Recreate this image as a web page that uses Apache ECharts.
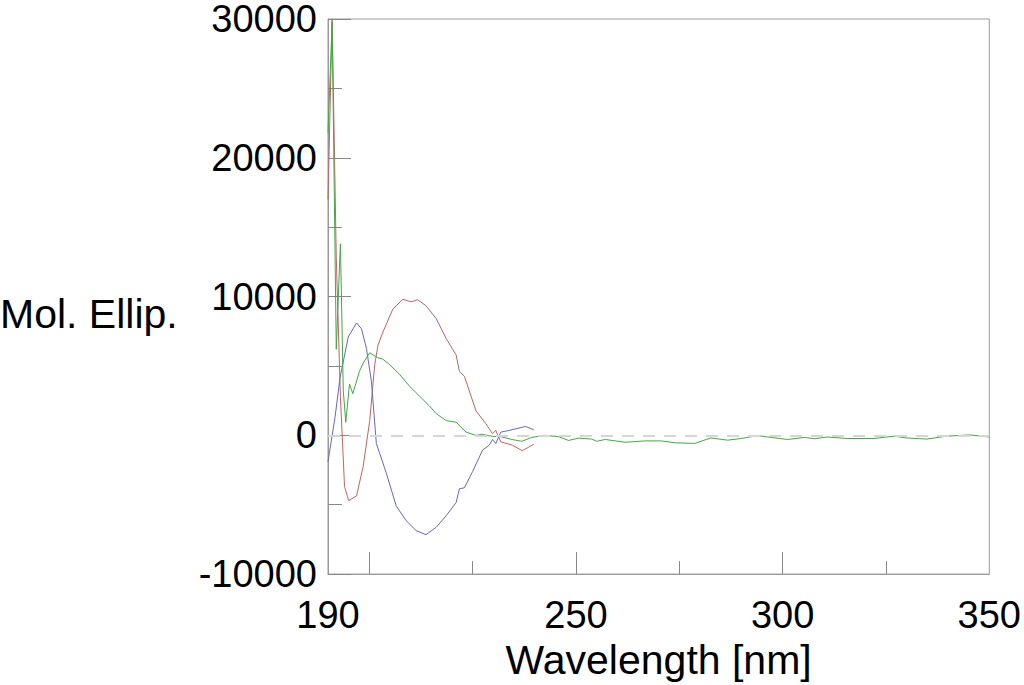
<!DOCTYPE html>
<html>
<head>
<meta charset="utf-8">
<script src="https://cdn.jsdelivr.net/npm/echarts@6/dist/echarts.min.js"></script>
<style>html,body{margin:0;padding:0;background:#fff;}#c{width:1024px;height:685px;}</style>
</head>
<body>
<div id="c"></div>
<script>
// Wavelengths (nm) and molar ellipticity values
const redNm = [190,191,192,193,194,195,196.9,198.5,200.1,201.3,202.1,203.3,205.7,208.1,210.1,211.7,213.7,216.2,218.6,221,221.8,223,225.8,228.2,229.8,230.6,231.8,234.6,237,239.8];
const redVal = [17000,30000,12800,2800,-3700,-4700,-4370,-2250,1060,5080,6500,7450,9100,9800,9620,9770,9340,8400,6970,5790,4600,4250,1770,830,120,350,-470,-710,-1110,-640];

const blueNm = [190,191.7,192.9,194.9,196.9,198.1,199.3,200.5,201.7,204.1,206.5,208.9,211.3,213.7,216.2,218.6,221,221.8,223,225,227.4,229,229.8,230.6,231.8,233.8,237.8,239.8];
const blueVal = [-1890,1300,4130,7090,8100,7680,6260,3900,-590,-2720,-5080,-6150,-6860,-7160,-6620,-5790,-4840,-3850,-3780,-2600,-1060,-710,-300,-590,230,350,640,400];

const greenNm = [190,191,192,193,193.7,194.3,195.2,196,197.6,198.5,200.1,202,203.2,204.9,207.3,209.7,212.1,214.5,216.2,218.6,221,223.4,225.8,227.3,229.7,231.8,234.5,236.9,239.3,242.6,245.8,248.2,250.6,253.8,255,257.1,261.9,266.8,270.6,274,278.8,282.6,286.7,289.9,294,296.4,301.2,305.3,307.7,310.8,315.6,322.1,326.9,330,334.9,339.7,345.2,350];
const greenVal = [21800,29800,6200,13800,3200,940,3700,3000,4600,5200,5950,5600,5500,5100,4400,3550,2840,2130,1560,1060,940,230,0,70,-70,-100,-300,-430,-150,0,-100,-370,-200,-270,-430,-300,-500,-400,-400,-540,-580,-190,-350,-230,-20,-120,-300,-150,-250,-120,-230,-230,-60,-190,-270,-60,30,-120];

const xLabelValues = [190,250,300,350];
const xMajorTicks = [200,250,300];
const xMinorTicks = [225,275,325];

const FONT = 'Liberation Sans, Arial, sans-serif';
function pairs(xs, ys){ return xs.map((x,i)=>[x, ys[i]]); }

const chart = echarts.init(document.getElementById('c'), null, {renderer:'svg'});
chart.setOption({
  animation:false,
  backgroundColor:'#fff',
  grid:{left:328, right:31, top:12, bottom:108, show:true, borderColor:'#999', borderWidth:1, backgroundColor:'transparent'},
  xAxis:[{
    type:'value', min:190, max:350, position:'bottom',
    axisLine:{show:true, onZero:false, lineStyle:{color:'#999', width:1}},
    axisTick:{show:true, inside:true, length:22, customValues:xMajorTicks, lineStyle:{color:'#888', width:1}},
    axisLabel:{show:true, customValues:xLabelValues, fontSize:38, color:'#000', margin:22, fontFamily:FONT},
    splitLine:{show:false},
    name:'Wavelength [nm]', nameLocation:'middle', nameGap:64,
    nameTextStyle:{fontSize:41, color:'#000', fontFamily:FONT}
  },{
    type:'value', min:190, max:350, position:'bottom',
    axisLine:{show:false, onZero:false},
    axisTick:{show:true, inside:true, length:13, customValues:xMinorTicks, lineStyle:{color:'#888', width:1}},
    axisLabel:{show:false}, splitLine:{show:false}
  }],
  yAxis:{
    type:'value', min:-10000, max:30000, interval:10000,
    axisLine:{show:true, onZero:false, lineStyle:{color:'#999', width:1}},
    axisTick:{show:true, inside:true, length:23, lineStyle:{color:'#888', width:1}},
    minorTick:{show:true, splitNumber:2, length:14, lineStyle:{color:'#888', width:1}},
    axisLabel:{fontSize:38, color:'#000', margin:11, fontFamily:FONT, formatter:function(v){return String(v);}},
    splitLine:{show:false}
  },
  graphic:[{
    type:'text', left:0, top:293,
    style:{text:'Mol. Ellip.', fontSize:41, fontFamily:FONT, fill:'#000'}
  }],
  series:[
    {type:'line', data:[], z:1, silent:true,
     markLine:{silent:true, symbol:['none','none'], label:{show:false},
       lineStyle:{type:[12,9], color:'#d6d6d6', width:2}, data:[{yAxis:0}]}},
    {type:'line', name:'red', data:pairs(redNm, redVal), showSymbol:false, symbol:'none', z:2,
     lineStyle:{color:'#c46262', width:1}},
    {type:'line', name:'blue', data:pairs(blueNm, blueVal), showSymbol:false, symbol:'none', z:2,
     lineStyle:{color:'#6666c8', width:1}},
    {type:'line', name:'green', data:pairs(greenNm, greenVal), showSymbol:false, symbol:'none', z:3,
     lineStyle:{color:'#44a844', width:1}}
  ]
});
</script>
</body>
</html>
